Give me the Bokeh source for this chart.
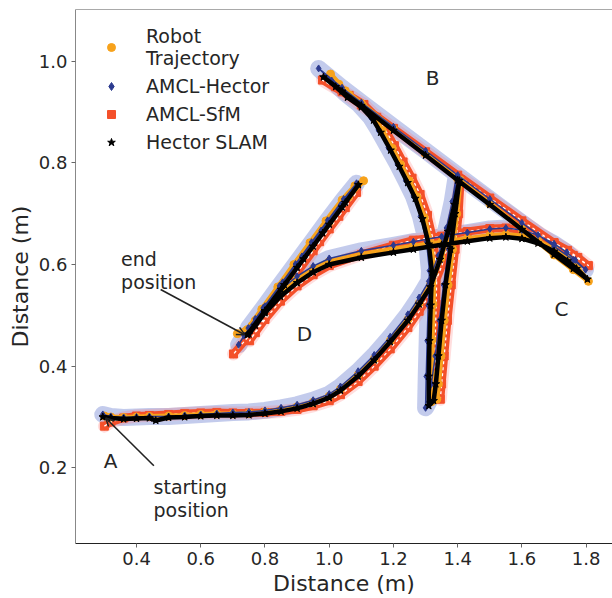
from bokeh.plotting import figure
from bokeh.models import FixedTicker, Range1d, Legend, LegendItem, Arrow, OpenHead, Span
from bokeh.core.properties import value
from bokeh.embed import file_html
from bokeh.resources import INLINE

# ---------------- data ----------------
robot_x = [0.300, 0.32, 0.36, 0.40, 0.44, 0.50, 0.55, 0.60, 0.65, 0.70, 0.75, 0.80, 0.85, 0.90, 0.95, 1.00, 1.035, 1.09, 1.14, 1.19, 1.245, 1.28, 1.315, 1.348, 1.373, 1.393, 1.408,
           1.397, 1.384, 1.370, 1.358, 1.348, 1.340, 1.335,
           1.318, 1.318, 1.320, 1.323, 1.326, 1.316, 1.296, 1.273, 1.249, 1.222, 1.196, 1.165, 1.142, 1.104, 1.062, 1.030, 1.004,
           1.050, 1.100, 1.200, 1.300, 1.400, 1.500, 1.600, 1.700, 1.760, 1.807,
           1.772, 1.744, 1.700, 1.650, 1.600, 1.550, 1.500, 1.430, 1.350, 1.262, 1.200, 1.100, 1.000, 0.950, 0.900, 0.848, 0.800, 0.770, 0.745,
           0.790, 0.840, 0.890, 0.940, 0.990, 1.040, 1.080, 1.107,
           1.060, 1.000, 0.940, 0.880, 0.820, 0.760, 0.714]
robot_y = [0.302, 0.300, 0.299, 0.300, 0.301, 0.302, 0.303, 0.305, 0.306, 0.306, 0.307, 0.310, 0.314, 0.320, 0.329, 0.341, 0.355, 0.383, 0.414, 0.450, 0.492, 0.524, 0.560, 0.613, 0.668, 0.720, 0.766,
           0.700, 0.630, 0.560, 0.490, 0.420, 0.365, 0.335,
           0.330, 0.385, 0.452, 0.522, 0.586, 0.642, 0.692, 0.733, 0.765, 0.797, 0.829, 0.864, 0.887, 0.913, 0.934, 0.955, 0.975,
           0.942, 0.917, 0.867, 0.818, 0.768, 0.720, 0.670, 0.619, 0.590, 0.567,
           0.594, 0.611, 0.630, 0.646, 0.656, 0.659, 0.657, 0.651, 0.644, 0.636, 0.630, 0.620, 0.606, 0.591, 0.571, 0.545, 0.514, 0.490, 0.472,
           0.512, 0.556, 0.600, 0.643, 0.686, 0.727, 0.755, 0.765,
           0.733, 0.684, 0.633, 0.581, 0.529, 0.480, 0.464]

amcl_hector_x = [0.295, 0.32, 0.36, 0.40, 0.44, 0.50, 0.55, 0.60, 0.65, 0.70, 0.75, 0.80, 0.85, 0.90, 0.95, 1.00, 1.035, 1.09, 1.14, 1.19, 1.245, 1.28, 1.31, 1.34, 1.365, 1.383, 1.395,
                 1.386, 1.372, 1.356, 1.343, 1.330, 1.318, 1.310,
                 1.300, 1.302, 1.305, 1.308, 1.312, 1.303, 1.284, 1.262, 1.238, 1.212, 1.184, 1.153, 1.130, 1.092, 1.050, 1.008, 0.967,
                 1.040, 1.100, 1.200, 1.300, 1.400, 1.500, 1.600, 1.700, 1.760, 1.798,
                 1.766, 1.740, 1.700, 1.650, 1.600, 1.550, 1.500, 1.430, 1.350, 1.262, 1.200, 1.100, 1.000, 0.950, 0.900, 0.848, 0.800, 0.770, 0.748,
                 0.795, 0.845, 0.895, 0.945, 0.995, 1.045, 1.085,
                 1.035, 0.975, 0.915, 0.855, 0.795, 0.735, 0.718]
amcl_hector_y = [0.305, 0.301, 0.299, 0.300, 0.301, 0.301, 0.303, 0.305, 0.307, 0.309, 0.310, 0.313, 0.318, 0.324, 0.333, 0.345, 0.360, 0.390, 0.422, 0.458, 0.502, 0.535, 0.567, 0.618, 0.672, 0.724, 0.772,
                 0.700, 0.630, 0.560, 0.490, 0.420, 0.365, 0.330,
                 0.318, 0.380, 0.450, 0.520, 0.588, 0.645, 0.695, 0.735, 0.766, 0.798, 0.830, 0.865, 0.889, 0.916, 0.937, 0.962, 0.986,
                 0.948, 0.919, 0.871, 0.824, 0.776, 0.729, 0.682, 0.636, 0.609, 0.590,
                 0.609, 0.624, 0.641, 0.658, 0.668, 0.672, 0.670, 0.663, 0.655, 0.645, 0.638, 0.627, 0.612, 0.597, 0.577, 0.550, 0.518, 0.493, 0.475,
                 0.515, 0.558, 0.601, 0.644, 0.687, 0.729, 0.760,
                 0.717, 0.667, 0.616, 0.565, 0.513, 0.460, 0.442]

amcl_sfm_x = [0.300, 0.32, 0.36, 0.40, 0.44, 0.50, 0.55, 0.60, 0.65, 0.70, 0.75, 0.80, 0.85, 0.90, 0.95, 1.00, 1.035, 1.09, 1.14, 1.19, 1.245, 1.28, 1.32, 1.352, 1.378, 1.396, 1.409,
              1.403, 1.392, 1.380, 1.368, 1.358, 1.350, 1.346,
              1.332, 1.330, 1.330, 1.333, 1.335, 1.325, 1.306, 1.283, 1.258, 1.230, 1.203, 1.172, 1.148, 1.108, 1.062, 1.020, 0.979,
              1.040, 1.100, 1.200, 1.300, 1.400, 1.500, 1.600, 1.700, 1.760, 1.807,
              1.774, 1.742, 1.700, 1.650, 1.600, 1.550, 1.500, 1.430, 1.350, 1.262, 1.200, 1.100, 1.000, 0.950, 0.900, 0.848, 0.800, 0.770, 0.752,
              0.800, 0.850, 0.900, 0.950, 1.000, 1.050, 1.085,
              1.030, 0.970, 0.900, 0.830, 0.760, 0.702]
amcl_sfm_y = [0.282, 0.290, 0.298, 0.302, 0.303, 0.305, 0.307, 0.308, 0.309, 0.308, 0.308, 0.309, 0.311, 0.315, 0.322, 0.332, 0.344, 0.370, 0.400, 0.434, 0.476, 0.508, 0.548, 0.600, 0.657, 0.712, 0.767,
              0.700, 0.630, 0.560, 0.490, 0.420, 0.365, 0.335,
              0.338, 0.390, 0.455, 0.522, 0.585, 0.645, 0.697, 0.738, 0.770, 0.802, 0.834, 0.868, 0.890, 0.915, 0.933, 0.950, 0.963,
              0.940, 0.914, 0.868, 0.822, 0.776, 0.731, 0.686, 0.643, 0.618, 0.598,
              0.614, 0.628, 0.643, 0.659, 0.668, 0.672, 0.671, 0.665, 0.656, 0.648, 0.638, 0.620, 0.598, 0.580, 0.558, 0.528, 0.492, 0.466, 0.450,
              0.497, 0.541, 0.584, 0.627, 0.670, 0.712, 0.742,
              0.695, 0.645, 0.586, 0.526, 0.467, 0.424]

hector_slam_x = [0.295, 0.32, 0.36, 0.40, 0.44, 0.46, 0.50, 0.55, 0.60, 0.65, 0.70, 0.75, 0.80, 0.85, 0.90, 0.95, 1.00, 1.035, 1.09, 1.14, 1.19, 1.245, 1.28, 1.315, 1.345, 1.37, 1.39, 1.405,
                 1.392, 1.378, 1.362, 1.350, 1.340, 1.332, 1.325,
                 1.310, 1.310, 1.312, 1.316, 1.320, 1.310, 1.290, 1.268, 1.244, 1.218, 1.191, 1.160, 1.138, 1.100, 1.057, 1.020, 0.982,
                 1.040, 1.100, 1.200, 1.300, 1.400, 1.500, 1.600, 1.700, 1.760, 1.804,
                 1.770, 1.742, 1.700, 1.650, 1.600, 1.550, 1.500, 1.430, 1.350, 1.262, 1.200, 1.100, 1.000, 0.950, 0.900, 0.848, 0.800, 0.770, 0.750,
                 0.800, 0.850, 0.900, 0.950, 1.000, 1.050, 1.091,
                 1.040, 0.980, 0.920, 0.860, 0.800, 0.745]
hector_slam_y = [0.300, 0.298, 0.296, 0.297, 0.298, 0.293, 0.299, 0.300, 0.302, 0.303, 0.303, 0.304, 0.307, 0.311, 0.317, 0.326, 0.338, 0.352, 0.380, 0.412, 0.448, 0.490, 0.522, 0.556, 0.610, 0.665, 0.718, 0.765,
                 0.700, 0.630, 0.560, 0.490, 0.420, 0.365, 0.332,
                 0.322, 0.380, 0.450, 0.520, 0.585, 0.640, 0.690, 0.730, 0.761, 0.793, 0.825, 0.860, 0.884, 0.910, 0.929, 0.950, 0.969,
                 0.941, 0.913, 0.864, 0.815, 0.766, 0.718, 0.669, 0.620, 0.592, 0.571,
                 0.592, 0.607, 0.626, 0.642, 0.651, 0.654, 0.652, 0.646, 0.639, 0.630, 0.624, 0.614, 0.600, 0.585, 0.564, 0.537, 0.505, 0.480, 0.463,
                 0.508, 0.551, 0.594, 0.636, 0.679, 0.722, 0.757,
                 0.713, 0.662, 0.611, 0.560, 0.509, 0.462]

x_ticks = [0.4, 0.6, 0.8, 1.0, 1.2, 1.4, 1.6, 1.8]
x_tick_labels = ["0.4", "0.6", "0.8", "1.0", "1.2", "1.4", "1.6", "1.8"]
y_ticks = [0.2, 0.4, 0.6, 0.8, 1.0]
y_tick_labels = ["0.2", "0.4", "0.6", "0.8", "1.0"]

corner_labels = ["A", "B", "C", "D"]
corner_x = [0.319, 1.322, 1.723, 0.923]
corner_y = [0.214, 0.967, 0.512, 0.463]

note_texts = ["end", "position", "starting", "position"]
note_x = [0.352, 0.352, 0.453, 0.453]
note_y = [0.610, 0.565, 0.163, 0.116]

# arrows: (x_start, y_start, x_end, y_end)
end_arrow = (0.475, 0.551, 0.737, 0.462)
start_arrow = (0.454, 0.204, 0.304, 0.298)

# ---------------- figure ----------------
FONT = "DejaVu Sans"
TXT = "#262626"
ORANGE = "#f7a21b"
NAVY = "#2b3a8f"
HALO = "#7184d2"
RED = "#f4502a"

p = figure(width=612, height=598,
           x_range=Range1d(0.210, 1.882), y_range=Range1d(0.051, 1.102),
           output_backend="svg", toolbar_location=None,
           min_border_left=75, min_border_right=0, min_border_top=9, min_border_bottom=53)
p.grid.visible = False
p.outline_line_color = None
p.background_fill_color = "white"
p.border_fill_color = "white"

# blue halo (AMCL-Hector)
p.line(amcl_hector_x, amcl_hector_y, line_color=HALO, line_alpha=0.42, line_width=17,
       line_join="round", line_cap="round")
# red halo + red strand (AMCL-SfM)
p.line(amcl_sfm_x, amcl_sfm_y, line_color="#ff6a6a", line_alpha=0.22, line_width=13,
       line_join="round", line_cap="round")
p.line(amcl_sfm_x, amcl_sfm_y, line_color=RED, line_width=8, line_join="round", line_cap="round")
sfm_r = p.scatter(amcl_sfm_x, amcl_sfm_y, marker="square", size=8, fill_color=RED, line_color=RED)
p.line(amcl_sfm_x, amcl_sfm_y, line_color="white", line_width=1.3, line_dash="3 3", line_join="round")
# robot trajectory
p.line(robot_x, robot_y, line_color=ORANGE, line_width=5, line_join="round", line_cap="round")
robot_r = p.scatter(robot_x, robot_y, marker="circle", size=8, fill_color=ORANGE, line_color=ORANGE)
# AMCL-Hector core
p.line(amcl_hector_x, amcl_hector_y, line_color=NAVY, line_width=1.5, line_join="round")
hector_amcl_r = p.scatter(amcl_hector_x, amcl_hector_y, marker="diamond", size=7,
                          fill_color=NAVY, line_color=NAVY)
# Hector SLAM
p.line(hector_slam_x, hector_slam_y, line_color="black", line_width=4.5, line_join="round", line_cap="round")
slam_r = p.scatter(hector_slam_x, hector_slam_y, marker="star", size=8, fill_color="black", line_color="black")

# annotations
p.text(x=corner_x, y=corner_y, text=corner_labels, text_font=value(FONT), text_font_size="20px",
       text_color=TXT, text_align="center", text_baseline="middle")
p.text(x=note_x, y=note_y, text=note_texts, text_font=value(FONT), text_font_size="19px",
       text_color=TXT, text_align="left", text_baseline="middle")
for (xs, ys, xe, ye) in (end_arrow, start_arrow):
    p.add_layout(Arrow(end=OpenHead(size=8, line_width=1.5, line_color="#222222"),
                       x_start=xs, y_start=ys, x_end=xe, y_end=ye,
                       line_width=1.6, line_color="#222222"))

# top spine
p.add_layout(Span(location=1.102, dimension="width", line_color="#555555", line_width=1.2))

# axes
for ax, ticks, labels in ((p.xaxis[0], x_ticks, x_tick_labels), (p.yaxis[0], y_ticks, y_tick_labels)):
    ax.ticker = FixedTicker(ticks=ticks)
    ax.major_label_overrides = {t: l for t, l in zip(ticks, labels)}
    ax.minor_tick_line_color = None
    ax.major_tick_in = 0
    ax.major_tick_out = 4
    ax.major_tick_line_color = "#666666"
    ax.major_label_text_font = FONT
    ax.major_label_text_font_size = "18px"
    ax.major_label_text_color = TXT
    ax.major_label_standoff = 4
    ax.axis_label = "Distance (m)"
    ax.axis_label_text_font = FONT
    ax.axis_label_text_font_size = "22px"
    ax.axis_label_text_font_style = "normal"
    ax.axis_label_text_color = TXT
    ax.axis_label_standoff = 3
p.xaxis[0].axis_line_color = "#222222"
p.yaxis[0].axis_line_color = "#888888"

legend = Legend(items=[
    LegendItem(label="Robot\nTrajectory", renderers=[robot_r]),
    LegendItem(label="AMCL-Hector", renderers=[hector_amcl_r]),
    LegendItem(label="AMCL-SfM", renderers=[sfm_r]),
    LegendItem(label="Hector SLAM", renderers=[slam_r]),
], location="top_left", margin=16, padding=17, glyph_width=40, label_standoff=15,
    spacing=6, border_line_color=None, background_fill_alpha=0,
    label_text_font=FONT, label_text_font_size="19px", label_text_color=TXT)
p.add_layout(legend)

open("out.html", "w").write(file_html(p, INLINE))
